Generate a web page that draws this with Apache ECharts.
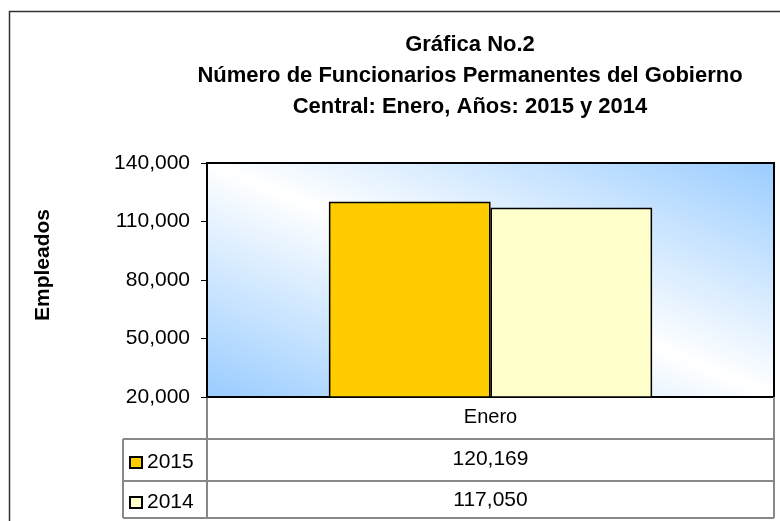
<!DOCTYPE html>
<html><head><meta charset="utf-8">
<script src="https://cdn.jsdelivr.net/npm/echarts@6/dist/echarts.min.js"></script>
<style>html,body{margin:0;padding:0;background:#fff}#c{width:780px;height:521px}</style>
</head><body><div id="c"></div>
<script>
// ---- data ----
const categories = ['Enero'];
const seriesNames = ['2015', '2014'];
const values2015 = [120169];
const values2014 = [117050];
const yMin = 20000, yMax = 140000, yInterval = 30000;
const titleLines = ['Gráfica No.2', 'Número de Funcionarios Permanentes del Gobierno', 'Central: Enero, Años: 2015 y 2014'];
const yAxisName = 'Empleados';
const barColors = ['#FFCC00', '#FFFFCC'];

// ---- layout ----
const FONT = 'Liberation Sans, Arial, sans-serif';
const G = {left: 207, top: 163, right: 774, bottom: 397};
const tableLeft = 123;
const rowHeights = [42, 42, 37];
const rowY = [G.bottom];
rowHeights.forEach((h, i) => rowY.push(rowY[i] + h));
const fmt = v => v.toLocaleString('en-US');

const chart = echarts.init(document.getElementById('c'));

// gradient with white isoline along the top-left -> bottom-right diagonal
const W = G.right - G.left, H = G.bottom - G.top;
const nx = H, ny = -W;
const t = (W * H + H * W) / (nx * nx + ny * ny);
const grad = new echarts.graphic.LinearGradient(0, 1, (nx * t) / W, 1 + (ny * t) / H, [
  {offset: 0, color: '#99CCFF'},
  {offset: 0.5, color: '#FFFFFF'},
  {offset: 1, color: '#99CCFF'}
]);

const gray = '#888888';
const lines = [];
const hLine = (y, x1, x2) => lines.push({type: 'line', silent: true, shape: {x1, y1: y, x2, y2: y}, style: {stroke: gray, lineWidth: 2}});
const vLine = (x, y1, y2) => lines.push({type: 'line', silent: true, shape: {x1: x, y1, x2: x, y2}, style: {stroke: gray, lineWidth: 2}});
for (let i = 1; i < rowY.length; i++) hLine(rowY[i], tableLeft, G.right);
vLine(tableLeft, rowY[1], rowY[rowY.length - 1]);
vLine(G.left, G.bottom, rowY[rowY.length - 1]);
vLine(G.right, G.bottom, rowY[rowY.length - 1]);

const labelCommon = {color: '#000', fontSize: 21, fontFamily: FONT};
const rowValues = [values2015, values2014];

const xAxes = [{
  type: 'category', data: categories, gridIndex: 0,
  axisLine: {show: false}, axisTick: {show: false}, splitLine: {show: false},
  axisLabel: Object.assign({margin: 10}, labelCommon, {fontSize: 20})
}];
rowValues.forEach((vals, i) => {
  xAxes.push({
    type: 'category', data: vals.map(fmt), gridIndex: 0, position: 'bottom',
    offset: rowY[i + 1] - G.bottom + (i === 1 ? -1 : 0),
    axisLine: {show: false}, axisTick: {show: false}, splitLine: {show: false},
    axisLabel: Object.assign({margin: 10}, labelCommon)
  });
});

chart.setOption({
  animation: false,
  backgroundColor: '#fff',
  title: {
    text: titleLines.join('\n'),
    left: 470, top: 29, padding: 0, textAlign: 'center',
    textStyle: {fontSize: 22, fontWeight: 'bold', fontFamily: FONT, color: '#000', lineHeight: 31}
  },
  legend: {
    data: seriesNames, orient: 'vertical', left: 129, top: 452, padding: 0,
    icon: 'rect', itemWidth: 12, itemHeight: 11, itemGap: 19,
    textStyle: {color: '#000', fontSize: 21, fontFamily: FONT, lineHeight: 20},
    selectedMode: false
  },
  grid: {
    left: G.left, top: G.top, width: W, height: H,
    show: true, borderColor: '#000', borderWidth: 2, backgroundColor: grad,
    containLabel: false, outerBoundsMode: 'none'
  },
  xAxis: xAxes,
  yAxis: {
    type: 'value', min: yMin, max: yMax, interval: yInterval,
    axisLine: {show: true, lineStyle: {color: '#000', width: 2}},
    axisTick: {show: true, length: 6, lineStyle: {color: '#000'}},
    splitLine: {show: false},
    axisLabel: Object.assign({margin: 17, formatter: v => fmt(v)}, labelCommon)
  },
  series: [
    {name: seriesNames[0], type: 'bar', data: values2015, xAxisIndex: 0,
     barGap: '0%', barCategoryGap: '43%',
     itemStyle: {color: barColors[0], borderColor: '#000', borderWidth: 1.5}},
    {name: seriesNames[1], type: 'bar', data: values2014, xAxisIndex: 0,
     barGap: '0%', barCategoryGap: '43%',
     itemStyle: {color: barColors[1], borderColor: '#000', borderWidth: 1.5}}
  ],
  graphic: [
    {type: 'rect', silent: true, shape: {x: 9.5, y: 11.5, width: 900, height: 700},
     style: {fill: 'none', stroke: '#333', lineWidth: 1.5}, z: -10},
    {type: 'text', silent: true, x: 43, y: 265, rotation: Math.PI / 2,
     style: {text: yAxisName, fontSize: 21, fontWeight: 'bold', fontFamily: FONT, fill: '#000',
             align: 'center', verticalAlign: 'middle'}}
  ].concat(lines)
});
</script></body></html>
